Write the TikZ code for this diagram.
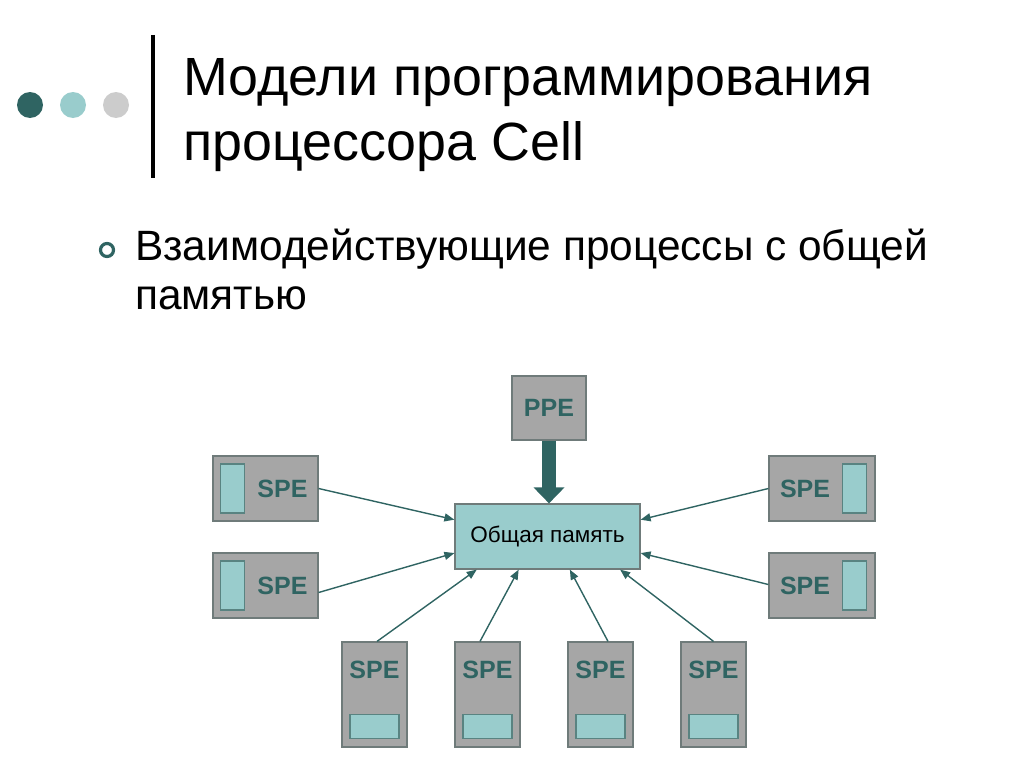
\documentclass[tikz,border=0pt]{standalone}
\usepackage{fontspec}
\setmainfont{Liberation Sans}
\usetikzlibrary{arrows.meta,calc}
\definecolor{tealdark}{HTML}{2F6462}
\definecolor{teallight}{HTML}{99CCCC}
\definecolor{dotgray}{HTML}{CCCCCC}
\definecolor{boxgray}{HTML}{A6A6A6}
\definecolor{boxline}{HTML}{6F7B7A}
\tikzset{
  titletext/.style={anchor=base west,inner sep=0pt,font=\fontsize{53.8}{64}\selectfont},
  bullettext/.style={anchor=base west,inner sep=0pt,font=\fontsize{42.4}{50}\selectfont},
  gbox/.style={draw=boxline,line width=1.2pt,fill=boxgray,inner sep=0pt},
  ibox/.style={draw=tealdark!80,line width=1.2pt,fill=teallight,inner sep=0pt},
  spelabel/.style={inner sep=0pt,text=tealdark,font=\fontsize{25}{30}\selectfont\bfseries},
  membox/.style={draw=boxline,line width=1.2pt,fill=teallight,inner sep=0pt},
  conn/.style={draw=tealdark,line width=1.4pt,-{Triangle[length=10pt,width=8pt]}},
}
\begin{document}
\begin{tikzpicture}[x=1pt,y=-1pt]
\useasboundingbox (0,0) rectangle (1024,768);
% header dots and bar
\fill[tealdark] (30,105) circle (13);
\fill[teallight] (73,105) circle (13);
\fill[dotgray] (116,105) circle (13);
\draw[line width=3.5pt] (153,35) -- (153,178);
\node[titletext] (t1) at (183,95) {Модели программирования};
\node[titletext] (t2) at (183,160) {процессора Cell};
% bullet
\draw[tealdark,line width=3.2pt] (107,250) circle (6.5);
\node[bullettext] (b1) at (135,260) {Взаимодействующие процессы с общей};
\node[bullettext] (b2) at (135,309) {памятью};
% central memory
\node[membox,minimum width=185pt,minimum height=65pt,font=\fontsize{22.5}{27}\selectfont] (mem) at (547.5,536.5) {Общая память};
% PPE
\node[gbox,minimum width=74pt,minimum height=64pt] (ppe) at (549,408) {};
\node[spelabel] (ppel) at (ppe.center) {PPE};
% left SPEs
\foreach \n/\y in {l1/488.5,l2/585.5}{
  \node[gbox,minimum width=105pt,minimum height=65pt] (\n) at (265.5,\y) {};
  \node[ibox,minimum width=24pt,minimum height=49pt] (\n i) at ($(\n.west)+(20,0)$) {};
  \node[spelabel] (\n t) at ($(\n.center)+(17,0)$) {SPE};
}
% right SPEs
\foreach \n/\y in {r1/488.5,r2/585.5}{
  \node[gbox,minimum width=106pt,minimum height=65pt] (\n) at (822,\y) {};
  \node[ibox,minimum width=24pt,minimum height=49pt] (\n i) at ($(\n.east)+(-21,0)$) {};
  \node[spelabel] (\n t) at ($(\n.center)+(-17,0)$) {SPE};
}
% bottom SPEs
\foreach \n/\x in {b1/374.5,b2/487.5,b3/600.5,b4/713.5}{
  \node[gbox,minimum width=65pt,minimum height=105pt] (s\n) at (\x,694.5) {};
  \node[ibox,minimum width=49pt,minimum height=24pt] (s\n i) at ($(s\n.south)+(0,-21)$) {};
  \node[spelabel] (s\n t) at ($(s\n.north)+(0,28)$) {SPE};
}
% thick arrow PPE -> memory
\draw[tealdark,line width=14pt,-{Triangle[length=16pt,width=30pt]}] (ppe.south) -- (ppe.south |- mem.north);
% thin connectors
\draw[conn] (l1.east) -- ($(mem.north west)!0.246!(mem.south west)$);
\draw[conn] ($(l2.east)+(0,7)$) -- ($(mem.north west)!0.75!(mem.south west)$);
\draw[conn] (r1.west) -- ($(mem.north east)!0.246!(mem.south east)$);
\draw[conn] ($(r2.west)+(0,-1)$) -- ($(mem.north east)!0.75!(mem.south east)$);
\draw[conn] ($(sb1.north)+(2.5,0)$) -- ($(mem.south west)!0.12!(mem.south east)$);
\draw[conn] ($(sb2.north)+(-7.5,0)$) -- ($(mem.south west)!0.345!(mem.south east)$);
\draw[conn] ($(sb3.north)+(7.5,0)$) -- ($(mem.south west)!0.62!(mem.south east)$);
\draw[conn] (sb4.north) -- ($(mem.south west)!0.89!(mem.south east)$);
\end{tikzpicture}
\end{document}
